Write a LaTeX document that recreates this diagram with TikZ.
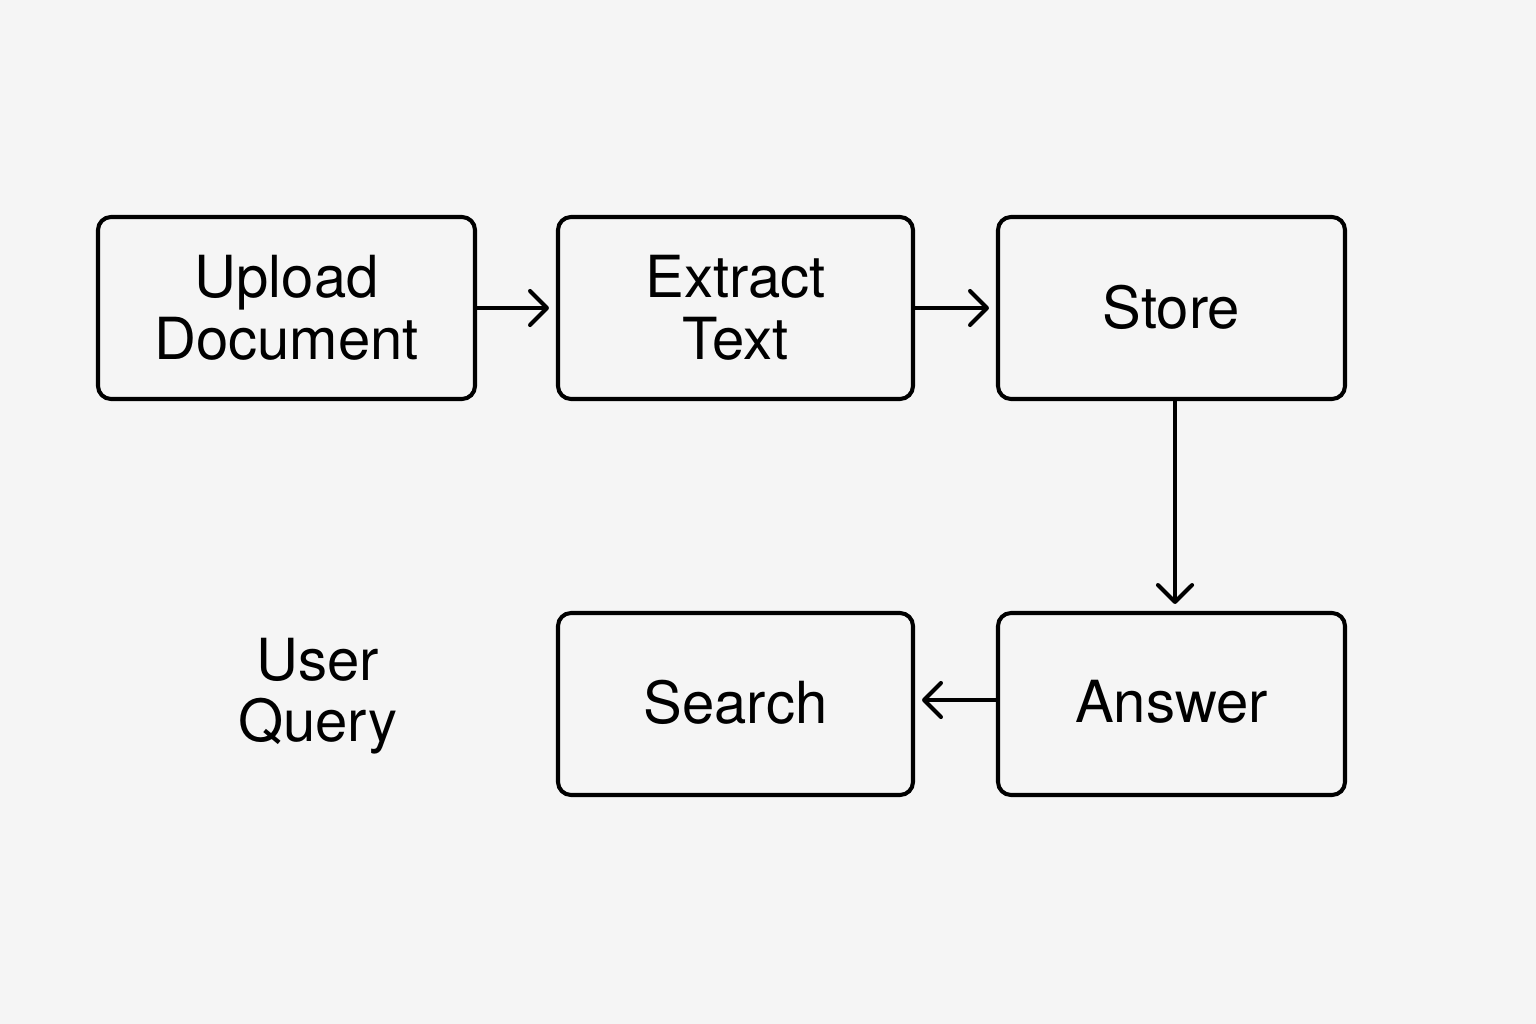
\documentclass[tikz,border=0pt]{standalone}
\usepackage{fontspec}
\setmainfont{TeX Gyre Heros}
\usetikzlibrary{arrows.meta}
\definecolor{bgc}{HTML}{F5F5F5}
\begin{document}
\begin{tikzpicture}[x=0.01cm,y=-0.01cm,
  box/.style={draw=black, line width=1.15pt, rounded corners=0.13cm, fill=bgc,
    minimum height=182*0.01cm, align=center, inner sep=0pt,
    font=\fontsize{16.5}{17.5}\selectfont},
  lbl/.style={align=center, font=\fontsize{16.5}{17.5}\selectfont},
  arr/.style={line width=1.15pt, line cap=round, -{Straight Barb[length=4.8pt,width=9.7pt,line width=1.15pt, round]}, shorten >=2pt}]
\fill[bgc] (0,0) rectangle (1536,1024);
\useasboundingbox (0,0) rectangle (1536,1024);
\node[box, minimum width=377*0.01cm] (upload) at (286.5,308) {Upload\\Document};
\node[box, minimum width=355*0.01cm] (extract) at (735.5,308) {Extract\\Text};
\node[box, minimum width=347*0.01cm] (store) at (1171.5,308) {\raisebox{0.03cm}{Store}};
\node[box, minimum width=355*0.01cm] (search) at (735.5,704) {\raisebox{0.05cm}{Search}};
\node[box, minimum width=347*0.01cm] (answer) at (1171.5,704) {\raisebox{0.05cm}{Answer}};
\node[lbl] (query) at (318,696) {User\\Query};
\draw[arr] (upload.east) -- (extract.west);
\draw[arr] (extract.east) -- (store.west);
\draw[arr] ([xshift=0.035cm]store.south) -- ([xshift=0.035cm]answer.north);
\draw[arr] ([yshift=0.04cm]answer.west) -- ([yshift=0.04cm]search.east);
\end{tikzpicture}
\end{document}
